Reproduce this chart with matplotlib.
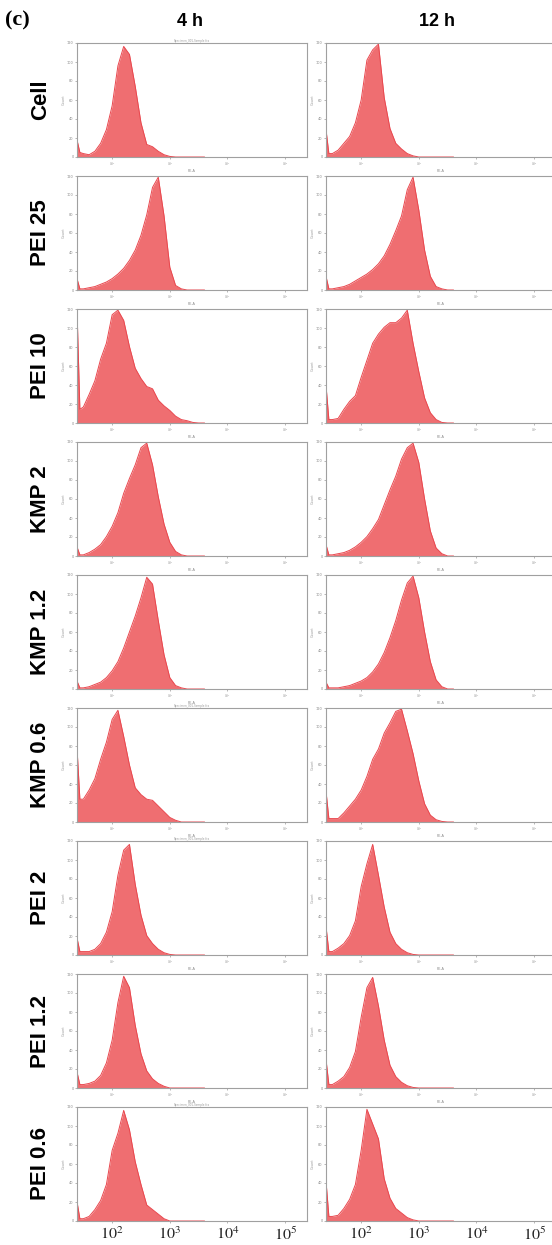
import numpy as np
import matplotlib
matplotlib.use('Agg')
import matplotlib.pyplot as plt

plt.rcParams['mathtext.fontset'] = 'stix'

# muestras (filas) y tiempos (columnas)
row_names = ['Cell', 'PEI 25', 'PEI 10', 'KMP 2', 'KMP 1.2', 'KMP 0.6', 'PEI 2', 'PEI 1.2', 'PEI 0.6']
col_names = ['4 h', '12 h']
tick_labels = ['$10^2$', '$10^3$', '$10^4$', '$10^5$']
tick_pos = [1e2, 1e3, 1e4, 1e5]

# canal PE-A en log10 (centros de bins)
log_pe = [1.39, 1.44, 1.5, 1.6, 1.7, 1.8, 1.9, 2.0, 2.1, 2.2, 2.3, 2.4,
          2.5, 2.6, 2.7, 2.8, 2.9, 3.0, 3.1, 3.2, 3.3, 3.4, 3.5, 3.6]

# cuentas normalizadas, 4 h
cell_4h = [0.15, 0.04, 0.03, 0.02, 0.05, 0.12, 0.24, 0.45, 0.80, 0.97, 0.90, 0.62,
           0.30, 0.11, 0.09, 0.05, 0.02, 0.005, 0, 0, 0, 0, 0, 0]
pei25_4h = [0.10, 0.01, 0.01, 0.02, 0.03, 0.05, 0.07, 0.10, 0.14, 0.19, 0.26, 0.35,
            0.48, 0.66, 0.90, 0.99, 0.65, 0.20, 0.04, 0.01, 0, 0, 0, 0]
pei10_4h = [1.00, 0.12, 0.14, 0.25, 0.37, 0.56, 0.70, 0.95, 0.99, 0.90, 0.67, 0.48,
            0.39, 0.32, 0.30, 0.20, 0.15, 0.11, 0.06, 0.03, 0.02, 0.005, 0, 0]
kmp2_4h = [0.08, 0.01, 0.01, 0.03, 0.06, 0.10, 0.17, 0.26, 0.38, 0.55, 0.68, 0.80,
           0.95, 0.99, 0.80, 0.52, 0.28, 0.12, 0.04, 0.01, 0, 0, 0, 0]
kmp12_4h = [0.07, 0.01, 0.01, 0.02, 0.04, 0.06, 0.10, 0.16, 0.24, 0.36, 0.50, 0.64,
            0.80, 0.98, 0.92, 0.60, 0.30, 0.10, 0.03, 0.01, 0, 0, 0, 0]
kmp06_4h = [0.65, 0.20, 0.20, 0.28, 0.38, 0.55, 0.70, 0.90, 0.98, 0.75, 0.50, 0.30,
            0.24, 0.20, 0.19, 0.14, 0.09, 0.04, 0.015, 0, 0, 0, 0, 0]
pei2_4h = [0.15, 0.03, 0.03, 0.03, 0.05, 0.10, 0.20, 0.38, 0.70, 0.92, 0.97, 0.62,
           0.35, 0.17, 0.10, 0.05, 0.02, 0.005, 0, 0, 0, 0, 0, 0]
pei12_4h = [0.14, 0.03, 0.03, 0.04, 0.06, 0.11, 0.22, 0.42, 0.75, 0.98, 0.88, 0.55,
            0.30, 0.15, 0.08, 0.04, 0.015, 0, 0, 0, 0, 0, 0, 0]
pei06_4h = [0.17, 0.02, 0.02, 0.04, 0.10, 0.18, 0.32, 0.62, 0.77, 0.97, 0.80, 0.52,
            0.32, 0.14, 0.10, 0.06, 0.02, 0, 0, 0, 0, 0, 0, 0]

# cuentas normalizadas, 12 h
cell_12h = [0.24, 0.03, 0.03, 0.06, 0.12, 0.18, 0.30, 0.50, 0.85, 0.94, 0.99, 0.52,
            0.25, 0.12, 0.07, 0.03, 0.01, 0, 0, 0, 0, 0, 0, 0]
pei25_12h = [0.12, 0.01, 0.01, 0.02, 0.03, 0.05, 0.08, 0.11, 0.14, 0.18, 0.23, 0.30,
             0.40, 0.52, 0.65, 0.88, 0.99, 0.70, 0.35, 0.12, 0.03, 0.01, 0, 0]
pei10_12h = [0.33, 0.03, 0.03, 0.04, 0.12, 0.19, 0.24, 0.40, 0.55, 0.70, 0.78, 0.84,
             0.88, 0.88, 0.92, 0.99, 0.70, 0.45, 0.22, 0.09, 0.03, 0.005, 0, 0]
kmp2_12h = [0.10, 0.01, 0.01, 0.02, 0.03, 0.05, 0.08, 0.12, 0.17, 0.24, 0.32, 0.45,
            0.58, 0.70, 0.85, 0.95, 0.99, 0.82, 0.50, 0.22, 0.07, 0.02, 0, 0]
kmp12_12h = [0.06, 0.01, 0.01, 0.01, 0.02, 0.03, 0.05, 0.07, 0.10, 0.15, 0.22, 0.32,
             0.45, 0.60, 0.78, 0.93, 0.99, 0.80, 0.50, 0.24, 0.08, 0.02, 0, 0]
kmp06_12h = [0.27, 0.03, 0.03, 0.03, 0.08, 0.14, 0.20, 0.28, 0.40, 0.55, 0.64, 0.78,
             0.87, 0.97, 0.99, 0.80, 0.60, 0.36, 0.16, 0.06, 0.02, 0.005, 0, 0]
pei2_12h = [0.25, 0.03, 0.03, 0.06, 0.10, 0.17, 0.30, 0.60, 0.80, 0.97, 0.70, 0.42,
            0.20, 0.10, 0.05, 0.02, 0.005, 0, 0, 0, 0, 0, 0, 0]
pei12_12h = [0.25, 0.03, 0.03, 0.06, 0.10, 0.18, 0.32, 0.62, 0.88, 0.97, 0.72, 0.42,
             0.20, 0.10, 0.05, 0.02, 0.005, 0, 0, 0, 0, 0, 0, 0]
pei06_12h = [0.35, 0.04, 0.04, 0.05, 0.11, 0.19, 0.32, 0.62, 0.98, 0.85, 0.72, 0.37,
             0.20, 0.11, 0.07, 0.03, 0.01, 0, 0, 0, 0, 0, 0, 0]

hist_4h = [cell_4h, pei25_4h, pei10_4h, kmp2_4h, kmp12_4h, kmp06_4h, pei2_4h, pei12_4h, pei06_4h]
hist_12h = [cell_12h, pei25_12h, pei10_12h, kmp2_12h, kmp12_12h, kmp06_12h, pei2_12h, pei12_12h, pei06_12h]

fill_c = '#ef6e71'
edge_c = '#e9474e'
W, H = 552, 1245

fig = plt.figure(figsize=(W / 100, H / 100), dpi=100)
x = 10 ** np.array(log_pe)

col_x0 = [77, 326]
ax_w, ax_h = 230, 114
top0, pitch = 43, 133

for r, name in enumerate(row_names):
    top = top0 + pitch * r
    for c, data in enumerate([hist_4h, hist_12h]):
        ax = fig.add_axes([col_x0[c] / W, 1 - (top + ax_h) / H, ax_w / W, ax_h / H])
        y = np.array(data[r])
        ax.fill_between(x, 0, y, color=fill_c, lw=0)
        ax.plot(x, y, color=edge_c, lw=0.7)
        ax.set_xscale('log')
        ax.set_xlim(10 ** 1.39, 10 ** 5.38)
        ax.set_ylim(0, 1.0)
        for s in ax.spines.values():
            s.set_color('#a0a0a0')
            s.set_linewidth(0.8)
        ax.minorticks_off()
        ax.set_yticks(np.linspace(0, 1, 7))
        ax.set_yticklabels(['0', '20', '40', '60', '80', '100', '120'], fontsize=2.5, color='#888888')
        ax.tick_params(axis='y', length=1.5, width=0.5, color='#999999', pad=1)
        ax.set_ylabel('Count', fontsize=2.5, color='#999999', labelpad=1)
        ax.set_xticks(tick_pos)
        if r == len(row_names) - 1:
            ax.set_xticklabels(tick_labels, fontsize=11.5, color='#222222')
            ax.tick_params(axis='x', length=1.5, width=0.5, color='#999999', pad=2)
        else:
            ax.set_xticklabels(tick_labels, fontsize=2.5, color='#888888')
            ax.tick_params(axis='x', length=1.5, width=0.5, color='#999999', pad=1)
            ax.set_xlabel('PE-A', fontsize=2.5, color='#888888', labelpad=0.5)
        if c == 0 and r in (0, 5, 6, 8):
            ax.set_title('Specimen_001-Sample.fcs', fontsize=2, color='#999999', pad=1)

    # etiqueta de la fila
    fig.text(41 / W, 1 - (top + ax_h / 2) / H, name, rotation=90, ha='center', va='center',
             fontsize=16, fontweight='bold', family='Liberation Sans')

fig.text(190 / W, 1 - 22 / H, col_names[0], ha='center', va='center', fontsize=13,
         fontweight='bold', family='Liberation Sans')
fig.text(437 / W, 1 - 22 / H, col_names[1], ha='center', va='center', fontsize=13,
         fontweight='bold', family='Liberation Sans')
fig.text(5 / W, 1 - 20 / H, '(c)', ha='left', va='center', fontsize=16,
         fontweight='bold', family='Liberation Serif')

fig.savefig('out.png', dpi=100)
